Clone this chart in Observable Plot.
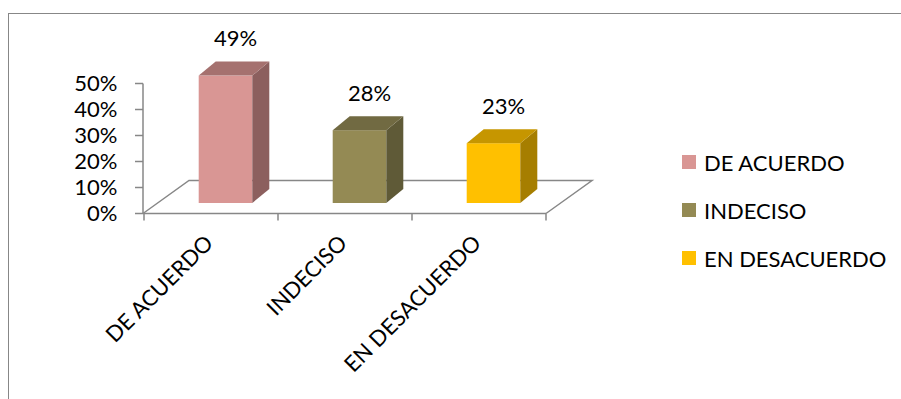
<!DOCTYPE html>
<html>
<head>
<meta charset="utf-8">
<script src="https://cdn.jsdelivr.net/npm/d3@7"></script>
<script src="https://cdn.jsdelivr.net/npm/@observablehq/plot@0.6"></script>
<style>
  body { margin: 0; background: #fff; font-family: Lato, "Open Sans", sans-serif; }
  #wrap { position: relative; width: 901px; height: 399px; overflow: hidden; background: #fff; }
  #border { position: absolute; left: 8px; top: 13px; width: 1200px; height: 1200px;
            border-left: 1.5px solid #878787; border-top: 1.5px solid #878787; pointer-events: none; }
  #chart { position: absolute; left: 0; top: 0; }
  .item { position: absolute; left: 682px; height: 24px; display: flex; align-items: center;
          font-family: Lato, sans-serif; font-size: 22px; color: #000; white-space: nowrap; }
  .sw { width: 14px; height: 14px; margin-right: 8px; }
</style>
</head>
<body>
<div id="wrap">
  <div id="border"></div>
  <div id="chart"></div>
  <div id="legend"></div>
</div>
<script>
const categories = ["DE ACUERDO", "INDECISO", "EN DESACUERDO"];
const values = [0.49, 0.28, 0.23];
const valueLabels = ["49%", "28%", "23%"];
const yTicks = [0, 0.1, 0.2, 0.3, 0.4, 0.5];
const frontColors = ["#D99694", "#948A54", "#FFC000"];
const sideColors = ["#8C5F5E", "#5F5A37", "#A67E00"];
const topColors = ["#A5716F", "#716A42", "#C69600"];

const data = categories.map((c, i) => ({
  cat: c, value: values[i], label: valueLabels[i],
  front: frontColors[i], side: sideColors[i], top: topColors[i]
}));

const barDepth = [17, -14];
const floorDepth = [46, -33];
const grey = "#878787";

function floorRender(index, scales, vals, dims, ctx, next) {
  const g = next(index, scales, vals, dims, ctx);
  const sel = d3.select(g);
  const y0 = scales.y(0), yTop = scales.y(0.5);
  const x0 = dims.marginLeft, x1 = dims.width - dims.marginRight;
  sel.append("path")
    .attr("d", `M${x0},${y0}L${x0 + floorDepth[0]},${y0 + floorDepth[1]}L${x1 + floorDepth[0]},${y0 + floorDepth[1]}L${x1},${y0}`)
    .attr("fill", "none").attr("stroke", grey).attr("stroke-width", 1.5);
  sel.append("line").attr("x1", x0).attr("x2", x0).attr("y1", y0).attr("y2", yTop)
    .attr("stroke", grey).attr("stroke-width", 1.5);
  let bw = scales.x.bandwidth;
  bw = typeof bw === "function" ? bw() : (bw ?? (x1 - x0) / categories.length);
  const bounds = categories.map(c => scales.x(c)).concat([scales.x(categories[categories.length - 1]) + bw]);
  for (const b of bounds) {
    sel.append("line").attr("x1", b).attr("x2", b).attr("y1", y0).attr("y2", y0 + 7)
      .attr("stroke", grey).attr("stroke-width", 1.5);
  }
  return g;
}

function barRender(index, scales, vals, dims, ctx, next) {
  const g = next(index, scales, vals, dims, ctx);
  const sel = d3.select(g);
  const [ddx, ddy] = barDepth;
  sel.selectAll("rect").each(function() {
    const r = d3.select(this);
    const i = r.datum();
    const x = +r.attr("x"), y = +r.attr("y"), w = +r.attr("width"), h = +r.attr("height");
    const d = data[i];
    sel.append("path")
      .attr("d", `M${x + w},${y}L${x + w + ddx},${y + ddy}L${x + w + ddx},${y + h + ddy}L${x + w},${y + h}Z`)
      .attr("fill", d.side);
    sel.append("path")
      .attr("d", `M${x},${y}L${x + ddx},${y + ddy}L${x + w + ddx},${y + ddy}L${x + w},${y}Z`)
      .attr("fill", d.top);
  });
  return g;
}

const W = 901, H = 399;
const plot = Plot.plot({
  width: W, height: H,
  marginLeft: 143, marginRight: 355, marginTop: 83, marginBottom: 186,
  style: { fontFamily: "Lato, sans-serif", fontSize: "22px", color: "#000", background: "transparent", overflow: "visible" },
  x: { type: "band", domain: categories, padding: 0 },
  y: { domain: [0, 0.5] },
  marks: [
    Plot.ruleY([0], { stroke: grey, strokeWidth: 1.5, render: floorRender }),
    Plot.barY(data, { x: "cat", y: "value", fill: "front", insetLeft: 40.2, insetRight: 40.2, dx: 14.5, dy: -10, render: barRender }),
    Plot.text(data, { x: "cat", y: "value", text: "label", dx: 24, dy: -47, fontSize: 22, fill: "#000" }),
    Plot.axisY({ ticks: yTicks, tickFormat: d3.format(".0%"), tickSize: 8, tickPadding: 18, fontSize: 22, stroke: grey, strokeWidth: 1.5, fill: "#000", label: null }),
    Plot.axisX({ tickRotate: -45, tickSize: 0, tickPadding: 12, dx: -2, dy: 14, fontSize: 22, fill: "#000", label: null })
  ]
});
document.getElementById("chart").appendChild(plot);

const legend = document.getElementById("legend");
const rowCenters = [162, 210, 258];
categories.forEach((c, i) => {
  const item = document.createElement("div");
  item.className = "item";
  item.style.top = (rowCenters[i] - 12) + "px";
  const sw = document.createElement("div");
  sw.className = "sw";
  sw.style.background = frontColors[i];
  const t = document.createElement("span");
  t.textContent = c;
  item.appendChild(sw); item.appendChild(t);
  legend.appendChild(item);
});
</script>
</body>
</html>
